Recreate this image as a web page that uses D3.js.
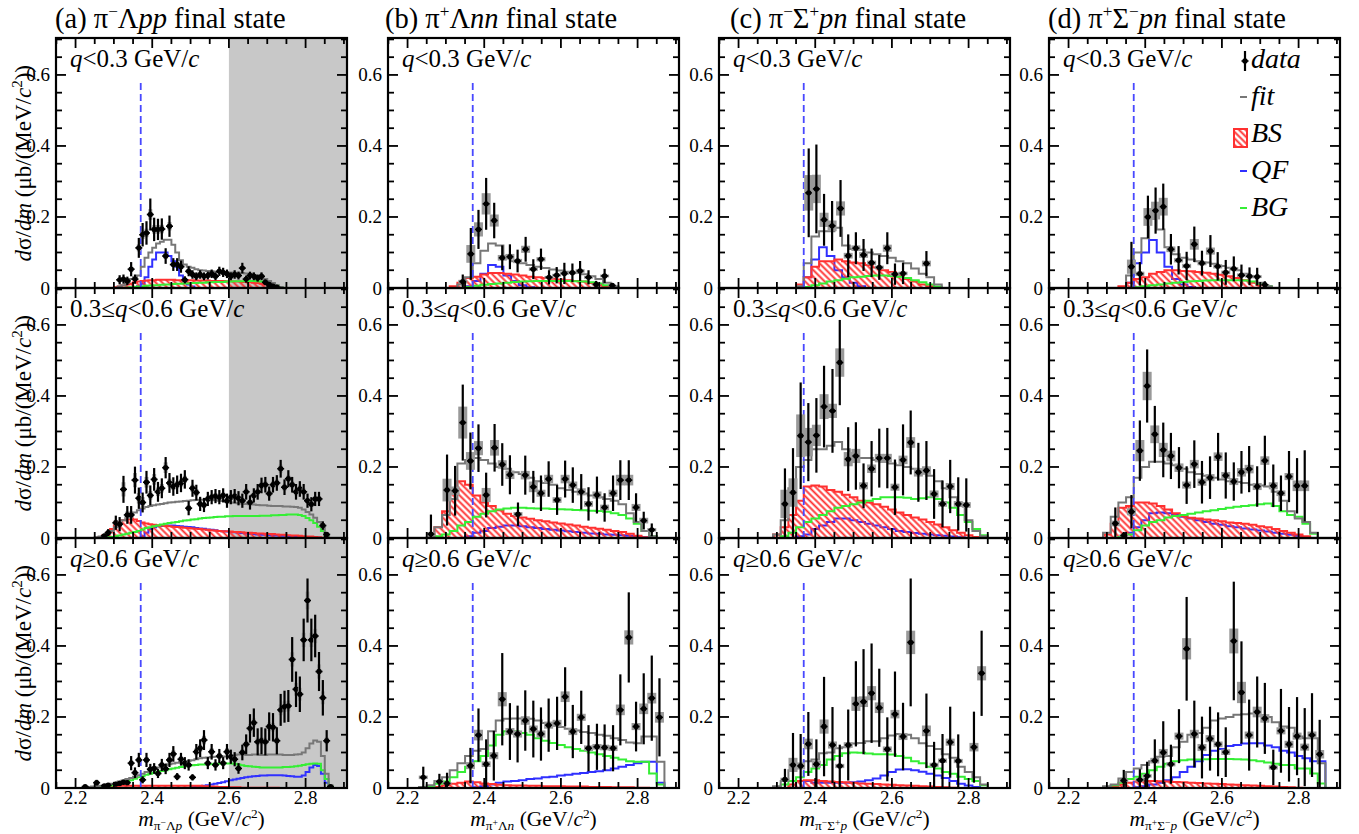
<!DOCTYPE html>
<meta charset="utf-8">
<style>
  body { margin: 0; background: #fff; }
  text { font-family: "Liberation Serif", "Times New Roman", "DejaVu Serif", serif; fill: #000; }
</style>
<svg id="chart" width="1359" height="834"></svg>
<script src="https://d3js.org/d3.v7.min.js"></script>
<script>
// ---------------- data ----------------
// histograms: bin i covers [edge0 + i*bw, edge0 + (i+1)*bw]
// column (a): edge0 2.22, bw 0.01 ; columns (b)-(d): edge0 2.23, bw 0.02
// data points: [mass, value, stat err, sys err]

// (a) pi- Lambda p p
const a1_pts = [[2.315,0.023,0.013,0.004],[2.325,0.025,0.013,0.004],[2.335,0.02,0.012,0.004],[2.345,0.053,0.02,0.006],[2.355,0.025,0.013,0.004],[2.365,0.113,0.028,0.01],[2.375,0.15,0.033,0.012],[2.385,0.155,0.033,0.012],[2.395,0.207,0.045,0.015],[2.405,0.165,0.033,0.012],[2.415,0.165,0.03,0.012],[2.425,0.166,0.03,0.012],[2.435,0.09,0.022,0.008],[2.445,0.174,0.03,0.012],[2.455,0.066,0.018,0.006],[2.465,0.066,0.018,0.006],[2.475,0.06,0.017,0.005],[2.485,0.023,0.01,0.003],[2.495,0.047,0.014,0.004],[2.505,0.038,0.012,0.004],[2.515,0.033,0.011,0.003],[2.525,0.038,0.012,0.004],[2.535,0.033,0.011,0.003],[2.545,0.035,0.011,0.003],[2.555,0.04,0.012,0.004],[2.565,0.033,0.011,0.003],[2.575,0.047,0.013,0.004],[2.585,0.044,0.013,0.004],[2.595,0.04,0.012,0.004],[2.605,0.033,0.011,0.003],[2.615,0.038,0.012,0.004],[2.625,0.035,0.011,0.003],[2.635,0.056,0.015,0.005],[2.645,0.025,0.01,0.003],[2.655,0.035,0.011,0.003],[2.665,0.033,0.011,0.003],[2.675,0.028,0.01,0.003],[2.685,0.033,0.011,0.003],[2.695,0.016,0.008,0.002],[2.705,0.01,0.006,0.002],[2.715,0.005,0.004,0.001],[2.725,0.002,0.002,0.001]];
const a1_fit = [0,0,0,0,0,0,0,0,0,0.004,0.008,0.015,0.025,0.03,0.035,0.06,0.085,0.1,0.113,0.125,0.13,0.136,0.136,0.122,0.1,0.078,0.066,0.06,0.057,0.053,0.05,0.049,0.048,0.047,0.046,0.045,0.045,0.044,0.044,0.043,0.043,0.042,0.041,0.04,0.036,0.033,0.03,0.025,0.02,0.014,0.008,0.003];
const a1_bs = [0,0,0,0,0,0,0,0,0.002,0.004,0.007,0.01,0.013,0.016,0.018,0.02,0.021,0.022,0.022,0.023,0.023,0.023,0.023,0.023,0.022,0.022,0.022,0.022,0.022,0.021,0.021,0.021,0.021,0.02,0.02,0.02,0.02,0.019,0.019,0.018,0.018,0.017,0.017,0.016,0.015,0.014,0.012,0.01,0.008,0.005,0.002];
const a1_qf = [0,0,0,0,0,0,0,0,0,0,0,0,0,0,0.005,0.012,0.03,0.06,0.08,0.1,0.1,0.1,0.09,0.075,0.06,0.035,0.02,0.01,0.004];
const a1_bg = [0,0,0,0,0,0,0,0,0,0,0,0.001,0.002,0.003,0.004,0.005,0.006,0.007,0.008,0.008,0.009,0.01,0.01,0.011,0.012,0.012,0.013,0.013,0.014,0.014,0.015,0.015,0.016,0.016,0.017,0.017,0.017,0.018,0.018,0.019,0.019,0.019,0.02,0.02,0.02,0.019,0.018,0.016,0.013,0.01,0.006,0.002];

const a2_pts = [[2.275,0.006,0.006,0.002],[2.285,0.015,0.01,0.003],[2.305,0.043,0.02,0.008],[2.315,0.039,0.02,0.008],[2.325,0.137,0.038,0.02],[2.335,0.065,0.025,0.01],[2.345,0.065,0.025,0.01],[2.355,0.163,0.038,0.02],[2.365,0.112,0.03,0.015],[2.375,0.1,0.028,0.015],[2.385,0.157,0.032,0.015],[2.395,0.12,0.028,0.012],[2.405,0.165,0.032,0.015],[2.415,0.13,0.028,0.012],[2.425,0.14,0.028,0.012],[2.435,0.198,0.03,0.015],[2.445,0.155,0.028,0.012],[2.455,0.145,0.026,0.01],[2.465,0.15,0.026,0.01],[2.475,0.155,0.026,0.01],[2.485,0.165,0.026,0.01],[2.495,0.084,0.02,0.008],[2.505,0.14,0.024,0.01],[2.515,0.128,0.022,0.01],[2.525,0.096,0.02,0.008],[2.535,0.093,0.02,0.008],[2.545,0.11,0.02,0.008],[2.555,0.115,0.02,0.008],[2.565,0.118,0.02,0.008],[2.575,0.115,0.02,0.008],[2.585,0.12,0.02,0.008],[2.595,0.105,0.02,0.008],[2.605,0.115,0.02,0.008],[2.615,0.118,0.02,0.008],[2.625,0.112,0.02,0.008],[2.635,0.105,0.02,0.008],[2.645,0.13,0.022,0.01],[2.655,0.1,0.02,0.008],[2.665,0.12,0.02,0.008],[2.675,0.13,0.022,0.01],[2.685,0.148,0.022,0.01],[2.695,0.15,0.022,0.01],[2.705,0.125,0.02,0.01],[2.715,0.15,0.022,0.01],[2.725,0.155,0.022,0.01],[2.735,0.195,0.025,0.012],[2.745,0.143,0.022,0.01],[2.755,0.167,0.024,0.01],[2.765,0.15,0.022,0.01],[2.775,0.13,0.022,0.01],[2.785,0.138,0.022,0.01],[2.795,0.13,0.022,0.01],[2.805,0.105,0.02,0.008],[2.815,0.095,0.02,0.008],[2.825,0.11,0.02,0.008],[2.835,0.11,0.02,0.008],[2.845,0.035,0.012,0.004],[2.855,0.01,0.006,0.002]];
const a2_fit = [0,0,0,0.002,0.004,0.007,0.012,0.02,0.03,0.04,0.05,0.058,0.065,0.072,0.078,0.083,0.087,0.09,0.092,0.094,0.096,0.098,0.1,0.101,0.102,0.103,0.104,0.105,0.106,0.107,0.108,0.108,0.108,0.107,0.106,0.105,0.104,0.102,0.1,0.099,0.098,0.097,0.096,0.095,0.094,0.093,0.092,0.092,0.091,0.09,0.09,0.09,0.089,0.089,0.088,0.087,0.085,0.08,0.073,0.066,0.057,0.045,0.03,0.008];
const a2_bs = [0,0,0,0,0.003,0.008,0.015,0.025,0.035,0.045,0.05,0.052,0.055,0.052,0.048,0.044,0.041,0.039,0.037,0.036,0.035,0.034,0.033,0.032,0.031,0.03,0.029,0.028,0.027,0.026,0.025,0.024,0.023,0.022,0.021,0.02,0.019,0.019,0.018,0.017,0.017,0.016,0.015,0.015,0.014,0.013,0.013,0.012,0.011,0.011,0.01,0.009,0.009,0.008,0.007,0.007,0.006,0.005,0.004,0.004,0.003,0.002,0.001];
const a2_qf = [0,0,0,0,0,0,0,0,0,0,0,0,0,0,0,0.005,0.015,0.025,0.03,0.033,0.034,0.035,0.035,0.035,0.034,0.033,0.032,0.031,0.03,0.028,0.027,0.026,0.024,0.023,0.022,0.02,0.019,0.018,0.017,0.016,0.015,0.014,0.013,0.012,0.011,0.01,0.009,0.009,0.008,0.007,0.007,0.006,0.006,0.005,0.005,0.004,0.004,0.003,0.003,0.002,0.002,0.001];
const a2_bg = [0,0,0,0,0,0,0.002,0.003,0.005,0.007,0.01,0.012,0.015,0.017,0.02,0.024,0.028,0.03,0.033,0.035,0.038,0.04,0.042,0.044,0.045,0.047,0.049,0.05,0.052,0.053,0.055,0.056,0.057,0.058,0.059,0.06,0.06,0.061,0.061,0.062,0.062,0.062,0.062,0.062,0.062,0.062,0.063,0.063,0.063,0.064,0.064,0.065,0.065,0.066,0.066,0.066,0.065,0.062,0.056,0.05,0.042,0.032,0.02,0.005];

const a3_pts = [[2.225,0.004,0.004,0.001],[2.255,0.015,0.008,0.002],[2.275,0.006,0.005,0.001],[2.285,0.008,0.006,0.001],[2.305,0.011,0.006,0.002],[2.315,0.013,0.007,0.002],[2.325,0.016,0.007,0.002],[2.335,0.015,0.007,0.002],[2.345,0.07,0.02,0.008],[2.355,0.043,0.015,0.006],[2.365,0.079,0.02,0.008],[2.375,0.023,0.01,0.004],[2.385,0.079,0.02,0.008],[2.395,0.053,0.015,0.006],[2.405,0.055,0.015,0.006],[2.415,0.041,0.013,0.005],[2.425,0.065,0.017,0.007],[2.435,0.054,0.015,0.006],[2.445,0.079,0.02,0.008],[2.455,0.096,0.022,0.01],[2.465,0.032,0.01,0.004],[2.475,0.081,0.018,0.008],[2.485,0.07,0.017,0.007],[2.495,0.065,0.016,0.007],[2.505,0.03,0.009,0.004],[2.515,0.102,0.022,0.01],[2.525,0.112,0.025,0.01],[2.535,0.135,0.028,0.012],[2.545,0.07,0.017,0.007],[2.555,0.102,0.022,0.01],[2.565,0.065,0.016,0.007],[2.575,0.09,0.02,0.008],[2.585,0.07,0.017,0.007],[2.595,0.102,0.022,0.01],[2.605,0.088,0.02,0.008],[2.615,0.081,0.02,0.008],[2.625,0.055,0.015,0.006],[2.635,0.1,0.022,0.01],[2.645,0.123,0.028,0.01],[2.655,0.168,0.04,0.012],[2.665,0.184,0.04,0.012],[2.675,0.13,0.038,0.01],[2.685,0.133,0.038,0.01],[2.695,0.13,0.038,0.01],[2.705,0.173,0.04,0.012],[2.715,0.171,0.04,0.012],[2.725,0.133,0.038,0.01],[2.735,0.22,0.045,0.015],[2.745,0.229,0.045,0.015],[2.755,0.231,0.045,0.015],[2.765,0.362,0.063,0.02],[2.775,0.278,0.05,0.018],[2.785,0.264,0.05,0.018],[2.795,0.417,0.06,0.02],[2.805,0.528,0.062,0.025],[2.815,0.417,0.06,0.02],[2.825,0.428,0.06,0.02],[2.835,0.328,0.055,0.02],[2.845,0.254,0.05,0.018],[2.855,0.133,0.03,0.01],[2.865,0.004,0.004,0.001]];
const a3_fit = [0.002,0.003,0.004,0.005,0.006,0.008,0.01,0.012,0.015,0.018,0.021,0.025,0.028,0.032,0.036,0.04,0.045,0.05,0.054,0.058,0.062,0.065,0.067,0.069,0.071,0.073,0.074,0.076,0.078,0.081,0.084,0.085,0.086,0.087,0.088,0.088,0.089,0.089,0.09,0.092,0.094,0.094,0.093,0.093,0.094,0.094,0.093,0.093,0.094,0.094,0.094,0.094,0.093,0.093,0.093,0.094,0.095,0.1,0.112,0.125,0.134,0.13,0.09,0.04,0.008];
const a3_bs = [0,0,0,0,0,0.002,0.003,0.004,0.005,0.006,0.006,0.006,0.006,0.006,0.006,0.006,0.006,0.006,0.006,0.006,0.006,0.006,0.006,0.006,0.006,0.006,0.006,0.006,0.006,0.006,0.006,0.005,0.005,0.004,0.004,0.003,0.003,0.003,0.002,0.002,0.002,0.001,0.001,0.001,0.001,0.001,0.001,0.001,0.001,0.001,0.001];
const a3_qf = [0,0,0,0,0,0,0,0,0,0,0,0,0,0,0,0,0,0,0,0,0,0,0,0,0,0,0,0,0.002,0.003,0.005,0.006,0.008,0.01,0.012,0.014,0.016,0.019,0.022,0.024,0.026,0.028,0.03,0.032,0.033,0.034,0.035,0.035,0.036,0.036,0.036,0.036,0.035,0.034,0.033,0.032,0.032,0.035,0.045,0.058,0.065,0.062,0.04,0.015,0.003];
const a3_bg = [0,0,0,0,0.002,0.003,0.005,0.007,0.01,0.012,0.015,0.018,0.022,0.026,0.03,0.033,0.037,0.04,0.043,0.045,0.048,0.05,0.053,0.055,0.057,0.059,0.061,0.062,0.064,0.065,0.066,0.066,0.067,0.067,0.068,0.068,0.069,0.069,0.069,0.068,0.066,0.064,0.062,0.061,0.06,0.059,0.058,0.058,0.058,0.058,0.058,0.058,0.059,0.059,0.06,0.061,0.063,0.065,0.067,0.068,0.069,0.068,0.05,0.025,0.005];

// (b) pi+ Lambda n n
const b1_pts = [[2.344,0.018,0.02,0.005],[2.365,0.096,0.073,0.025],[2.385,0.165,0.055,0.02],[2.405,0.237,0.073,0.03],[2.426,0.19,0.05,0.017],[2.447,0.085,0.035,0.008],[2.467,0.088,0.035,0.008],[2.487,0.076,0.032,0.006],[2.508,0.109,0.035,0.01],[2.528,0.053,0.028,0.005],[2.548,0.081,0.03,0.006],[2.569,0.03,0.02,0.004],[2.589,0.036,0.023,0.004],[2.609,0.041,0.03,0.004],[2.63,0.043,0.026,0.004],[2.65,0.048,0.028,0.005],[2.672,0.03,0.02,0.004],[2.692,0.01,0.01,0.002],[2.714,0.034,0.02,0.004],[2.734,0.007,0.007,0.002]];
const b1_fit = [0,0,0,0,0,0.01,0.03,0.07,0.105,0.125,0.12,0.09,0.075,0.07,0.065,0.06,0.056,0.052,0.049,0.046,0.043,0.039,0.033,0.025,0.015,0.005];
const b1_bs = [0,0,0,0,0.005,0.015,0.028,0.032,0.038,0.042,0.042,0.04,0.038,0.035,0.032,0.03,0.028,0.026,0.024,0.022,0.02,0.018,0.014,0.01,0.005,0.002];
const b1_qf = [0,0,0,0,0,0,0.005,0.02,0.04,0.065,0.06,0.035,0.02,0.008,0.002];
const b1_bg = [0,0,0,0,0,0,0.003,0.006,0.009,0.011,0.013,0.015,0.017,0.018,0.019,0.02,0.02,0.02,0.02,0.02,0.019,0.018,0.016,0.013,0.008,0.003];

const b2_pts = [[2.261,0.011,0.055,0.005],[2.303,0.135,0.1,0.032],[2.324,0.133,0.07,0.012],[2.344,0.325,0.107,0.045],[2.364,0.217,0.08,0.025],[2.385,0.253,0.067,0.02],[2.405,0.121,0.063,0.02],[2.427,0.254,0.067,0.022],[2.447,0.207,0.06,0.012],[2.467,0.178,0.055,0.012],[2.488,0.067,0.033,0.006],[2.507,0.177,0.055,0.012],[2.528,0.144,0.045,0.015],[2.548,0.126,0.05,0.01],[2.568,0.166,0.05,0.012],[2.59,0.107,0.042,0.008],[2.611,0.166,0.052,0.012],[2.631,0.149,0.05,0.01],[2.653,0.13,0.05,0.01],[2.672,0.096,0.047,0.008],[2.694,0.121,0.052,0.01],[2.714,0.086,0.04,0.008],[2.736,0.126,0.05,0.01],[2.755,0.163,0.056,0.015],[2.777,0.163,0.056,0.015],[2.796,0.086,0.04,0.01],[2.816,0.049,0.025,0.008],[2.837,0.023,0.018,0.005]];
const b2_fit = [0,0.002,0.03,0.065,0.11,0.21,0.22,0.225,0.22,0.21,0.2,0.195,0.185,0.18,0.17,0.16,0.155,0.15,0.14,0.135,0.13,0.125,0.12,0.115,0.11,0.105,0.095,0.07,0.045,0.02,0.005];
const b2_bs = [0,0,0.03,0.075,0.14,0.16,0.15,0.12,0.1,0.09,0.078,0.068,0.062,0.058,0.054,0.05,0.047,0.044,0.041,0.038,0.035,0.032,0.029,0.026,0.023,0.02,0.017,0.012,0.006,0.002];
const b2_qf = [0,0,0,0,0,0,0.005,0.015,0.02,0.028,0.032,0.035,0.035,0.033,0.03,0.028,0.025,0.023,0.021,0.019,0.017,0.015,0.013,0.012,0.01,0.009,0.008,0.006,0.004,0.002];
const b2_bg = [0,0,0.005,0.01,0.02,0.035,0.045,0.06,0.068,0.075,0.08,0.083,0.085,0.085,0.084,0.083,0.083,0.082,0.081,0.08,0.079,0.078,0.077,0.076,0.074,0.07,0.065,0.055,0.04,0.02,0.005];

const b3_pts = [[2.241,0.03,0.03,0.005],[2.283,0.018,0.022,0.003],[2.303,0.013,0.03,0.003],[2.364,0.063,0.05,0.01],[2.385,0.149,0.075,0.015],[2.405,0.067,0.07,0.008],[2.425,0.091,0.07,0.01],[2.447,0.25,0.13,0.02],[2.467,0.159,0.08,0.01],[2.487,0.152,0.08,0.01],[2.507,0.19,0.085,0.012],[2.528,0.166,0.08,0.01],[2.548,0.152,0.075,0.01],[2.568,0.177,0.075,0.01],[2.59,0.182,0.075,0.01],[2.611,0.257,0.083,0.015],[2.631,0.159,0.075,0.01],[2.653,0.199,0.075,0.01],[2.672,0.112,0.065,0.008],[2.694,0.116,0.065,0.008],[2.714,0.114,0.065,0.008],[2.736,0.112,0.065,0.008],[2.755,0.22,0.1,0.015],[2.777,0.424,0.127,0.02],[2.796,0.173,0.07,0.01],[2.816,0.223,0.1,0.015],[2.837,0.253,0.12,0.015],[2.857,0.199,0.11,0.015]];
const b3_fit = [0.003,0.008,0.02,0.03,0.05,0.07,0.09,0.105,0.11,0.16,0.19,0.195,0.196,0.196,0.195,0.19,0.183,0.177,0.172,0.167,0.162,0.158,0.155,0.15,0.147,0.14,0.135,0.128,0.126,0.145,0.145,0.074];
const b3_bs = [0,0,0.003,0.008,0.012,0.015,0.018,0.016,0.013,0.011,0.009,0.008,0.007,0.007,0.006,0.006,0.005,0.005,0.005,0.004,0.004,0.004,0.003,0.003,0.003,0.002,0.002,0.002,0.001,0.001];
const b3_qf = [0,0,0,0,0,0,0,0.002,0.005,0.01,0.015,0.018,0.02,0.022,0.025,0.027,0.03,0.032,0.035,0.037,0.04,0.042,0.045,0.047,0.05,0.055,0.06,0.065,0.07,0.074,0.074,0.015];
const b3_bg = [0.002,0.005,0.012,0.018,0.03,0.045,0.06,0.075,0.09,0.12,0.15,0.16,0.16,0.155,0.15,0.14,0.133,0.127,0.121,0.115,0.11,0.105,0.1,0.095,0.09,0.085,0.08,0.075,0.074,0.074,0.041,0.01];

// (c) pi- Sigma+ p n
const c1_pts = [[2.383,0.268,0.125,0.05],[2.403,0.279,0.125,0.04],[2.423,0.192,0.073,0.02],[2.444,0.175,0.07,0.015],[2.466,0.224,0.08,0.02],[2.486,0.091,0.06,0.008],[2.506,0.112,0.045,0.008],[2.526,0.093,0.045,0.008],[2.547,0.071,0.04,0.006],[2.567,0.058,0.035,0.005],[2.588,0.112,0.045,0.01],[2.608,0.039,0.03,0.005],[2.629,0.041,0.03,0.005],[2.69,0.069,0.035,0.008]];
const c1_fit = [0,0,0,0,0,0,0.005,0.07,0.145,0.16,0.16,0.17,0.12,0.11,0.108,0.1,0.095,0.09,0.085,0.075,0.07,0.055,0.04,0.03,0.01];
const c1_bs = [0,0,0,0,0,0,0.01,0.03,0.06,0.075,0.075,0.08,0.075,0.072,0.07,0.065,0.058,0.05,0.045,0.035,0.025,0.018,0.01,0.005];
const c1_qf = [0,0,0,0,0,0,0,0.03,0.08,0.115,0.09,0.05,0.03,0.015,0.005];
const c1_bg = [0,0,0,0,0,0,0,0.003,0.008,0.013,0.018,0.022,0.026,0.03,0.032,0.034,0.035,0.035,0.034,0.032,0.028,0.022,0.016,0.01,0.004];

const c2_pts = [[2.321,0.096,0.1,0.04],[2.342,0.128,0.125,0.04],[2.362,0.288,0.15,0.06],[2.382,0.27,0.11,0.04],[2.403,0.289,0.105,0.03],[2.423,0.37,0.115,0.035],[2.445,0.358,0.118,0.02],[2.464,0.494,0.12,0.04],[2.486,0.222,0.09,0.02],[2.506,0.231,0.095,0.02],[2.526,0.147,0.063,0.01],[2.547,0.195,0.078,0.012],[2.567,0.225,0.083,0.012],[2.588,0.225,0.085,0.012],[2.608,0.143,0.078,0.01],[2.629,0.22,0.1,0.012],[2.649,0.269,0.09,0.015],[2.669,0.185,0.083,0.012],[2.69,0.19,0.083,0.012],[2.71,0.124,0.07,0.01],[2.732,0.096,0.066,0.008],[2.752,0.145,0.075,0.01],[2.773,0.096,0.075,0.008],[2.794,0.093,0.075,0.008]];
const c2_fit = [0,0,0,0.01,0.05,0.14,0.2,0.22,0.25,0.25,0.26,0.27,0.25,0.23,0.225,0.225,0.22,0.215,0.21,0.205,0.2,0.195,0.19,0.175,0.16,0.14,0.115,0.09,0.05,0.02,0.005];
const c2_bs = [0,0,0,0.01,0.03,0.065,0.105,0.145,0.148,0.145,0.135,0.13,0.122,0.115,0.105,0.1,0.095,0.088,0.08,0.072,0.065,0.058,0.052,0.045,0.038,0.03,0.022,0.015,0.008,0.003];
const c2_qf = [0,0,0,0,0,0,0.005,0.01,0.025,0.035,0.045,0.055,0.055,0.05,0.045,0.04,0.035,0.03,0.025,0.02,0.017,0.014,0.012,0.01,0.008,0.006,0.004,0.002];
const c2_bg = [0,0,0,0,0.005,0.015,0.03,0.045,0.055,0.065,0.075,0.085,0.09,0.095,0.1,0.105,0.11,0.115,0.115,0.115,0.113,0.11,0.112,0.115,0.11,0.1,0.085,0.065,0.045,0.025,0.008];

const c3_pts = [[2.321,0.024,0.03,0.005],[2.342,0.065,0.09,0.02],[2.362,0.062,0.09,0.01],[2.382,0.124,0.09,0.015],[2.403,0.067,0.07,0.01],[2.423,0.173,0.14,0.02],[2.445,0.121,0.107,0.01],[2.464,0.062,0.06,0.006],[2.486,0.121,0.1,0.008],[2.506,0.237,0.12,0.02],[2.526,0.243,0.148,0.015],[2.547,0.267,0.14,0.02],[2.567,0.226,0.11,0.015],[2.588,0.109,0.09,0.008],[2.608,0.208,0.12,0.012],[2.629,0.145,0.095,0.01],[2.649,0.41,0.18,0.033],[2.69,0.161,0.105,0.015],[2.71,0.065,0.065,0.006],[2.732,0.077,0.075,0.006],[2.752,0.129,0.1,0.01],[2.773,0.076,0.075,0.006],[2.814,0.115,0.1,0.012],[2.834,0.323,0.12,0.02]];
const c3_fit = [0,0,0,0.005,0.02,0.05,0.06,0.075,0.08,0.098,0.1,0.112,0.115,0.125,0.127,0.132,0.132,0.14,0.148,0.152,0.15,0.14,0.126,0.118,0.11,0.095,0.085,0.06,0.045,0.03,0.01];
const c3_bs = [0,0,0,0,0,0.01,0.02,0.022,0.022,0.02,0.018,0.017,0.016,0.015,0.013,0.012,0.011,0.01,0.009,0.008,0.007,0.006,0.005,0.004,0.003,0.002,0.001];
const c3_qf = [0,0,0,0,0,0,0.02,0.02,0.015,0.015,0.015,0.015,0.015,0.016,0.018,0.022,0.027,0.035,0.045,0.052,0.053,0.05,0.046,0.04,0.035,0.028,0.02,0.012,0.007,0.003];
const c3_bg = [0,0,0,0.002,0.01,0.02,0.03,0.045,0.055,0.065,0.08,0.09,0.098,0.1,0.099,0.097,0.095,0.095,0.094,0.09,0.085,0.075,0.07,0.06,0.055,0.045,0.04,0.032,0.025,0.02,0.008];

// (d) pi+ Sigma- p n
const d1_pts = [[2.364,0.06,0.07,0.02],[2.386,0.04,0.033,0.006],[2.407,0.2,0.06,0.025],[2.427,0.218,0.065,0.025],[2.447,0.229,0.065,0.025],[2.467,0.109,0.043,0.008],[2.487,0.078,0.04,0.006],[2.508,0.062,0.04,0.006],[2.528,0.123,0.05,0.015],[2.548,0.07,0.035,0.006],[2.57,0.104,0.045,0.01],[2.589,0.061,0.04,0.006],[2.61,0.044,0.035,0.005],[2.631,0.054,0.035,0.005],[2.651,0.036,0.03,0.005],[2.672,0.033,0.025,0.004],[2.692,0.032,0.025,0.004],[2.712,0.009,0.01,0.002]];
const d1_fit = [0,0,0,0,0,0,0.035,0.1,0.14,0.195,0.165,0.115,0.095,0.085,0.08,0.075,0.072,0.068,0.062,0.057,0.05,0.04,0.03,0.015,0.005];
const d1_bs = [0,0,0,0,0,0.005,0.015,0.025,0.03,0.04,0.045,0.05,0.05,0.048,0.047,0.045,0.043,0.04,0.037,0.033,0.028,0.022,0.015,0.008,0.003];
const d1_qf = [0,0,0,0,0,0,0.015,0.07,0.1,0.135,0.1,0.06,0.025,0.01,0.003];
const d1_bg = [0,0,0,0,0,0,0,0.002,0.005,0.008,0.01,0.013,0.015,0.017,0.019,0.02,0.021,0.022,0.022,0.022,0.022,0.021,0.018,0.012,0.005];

const d2_pts = [[2.322,0.041,0.045,0.008],[2.344,0.007,0.01,0.003],[2.364,0.074,0.047,0.01],[2.386,0.246,0.085,0.03],[2.405,0.428,0.103,0.04],[2.425,0.292,0.08,0.025],[2.447,0.248,0.077,0.02],[2.467,0.231,0.065,0.015],[2.488,0.198,0.058,0.012],[2.508,0.149,0.053,0.01],[2.528,0.208,0.067,0.012],[2.548,0.157,0.06,0.01],[2.569,0.17,0.06,0.01],[2.59,0.229,0.067,0.012],[2.61,0.176,0.065,0.01],[2.631,0.159,0.054,0.01],[2.651,0.185,0.06,0.012],[2.671,0.194,0.065,0.012],[2.692,0.145,0.057,0.01],[2.712,0.218,0.07,0.012],[2.734,0.147,0.06,0.01],[2.754,0.126,0.05,0.008],[2.775,0.173,0.072,0.01],[2.796,0.147,0.078,0.015],[2.816,0.147,0.1,0.015]];
const d2_fit = [0,0,0,0.015,0.06,0.1,0.115,0.17,0.2,0.215,0.215,0.21,0.205,0.195,0.185,0.18,0.175,0.17,0.165,0.16,0.158,0.155,0.15,0.148,0.145,0.13,0.105,0.075,0.055,0.045,0.015];
const d2_bs = [0,0,0,0.01,0.04,0.085,0.09,0.1,0.1,0.097,0.09,0.08,0.07,0.062,0.057,0.055,0.052,0.05,0.047,0.044,0.042,0.04,0.037,0.033,0.03,0.025,0.02,0.015,0.01,0.005];
const d2_qf = [0,0,0,0,0,0,0.015,0.03,0.05,0.07,0.072,0.07,0.065,0.06,0.055,0.05,0.045,0.04,0.037,0.033,0.03,0.027,0.024,0.021,0.018,0.015,0.012,0.009,0.006,0.003];
const d2_bg = [0,0,0,0,0,0.003,0.01,0.022,0.035,0.045,0.05,0.058,0.062,0.065,0.068,0.072,0.075,0.078,0.082,0.085,0.088,0.09,0.092,0.095,0.097,0.09,0.075,0.065,0.06,0.04,0.012];

const d3_pts = [[2.344,0.021,0.03,0.005],[2.386,0.023,0.03,0.005],[2.405,0.034,0.04,0.005],[2.425,0.077,0.06,0.008],[2.447,0.1,0.088,0.01],[2.467,0.067,0.055,0.006],[2.488,0.146,0.076,0.01],[2.508,0.392,0.146,0.03],[2.528,0.152,0.094,0.012],[2.548,0.114,0.087,0.01],[2.569,0.139,0.09,0.01],[2.59,0.123,0.09,0.008],[2.61,0.101,0.07,0.008],[2.631,0.414,0.167,0.035],[2.651,0.269,0.144,0.03],[2.671,0.149,0.1,0.01],[2.692,0.214,0.1,0.015],[2.712,0.196,0.1,0.012],[2.734,0.058,0.05,0.006],[2.754,0.161,0.118,0.01],[2.775,0.123,0.105,0.01],[2.796,0.146,0.11,0.01],[2.816,0.115,0.11,0.01],[2.835,0.149,0.118,0.01],[2.855,0.095,0.097,0.012]];
const d3_fit = [0,0,0,0.005,0.01,0.027,0.045,0.055,0.065,0.075,0.088,0.09,0.115,0.13,0.15,0.155,0.17,0.19,0.196,0.2,0.206,0.208,0.21,0.205,0.2,0.185,0.173,0.17,0.145,0.14,0.14,0.07];
const d3_bs = [0,0,0,0,0.005,0.01,0.015,0.018,0.02,0.02,0.019,0.018,0.017,0.016,0.015,0.014,0.013,0.012,0.011,0.01,0.009,0.008,0.007,0.006,0.005,0.004,0.003,0.002,0.001];
const d3_qf = [0,0,0,0,0,0,0,0.002,0.005,0.01,0.015,0.022,0.03,0.045,0.06,0.075,0.093,0.105,0.11,0.118,0.121,0.125,0.126,0.126,0.12,0.115,0.105,0.1,0.09,0.084,0.075,0.075];
const d3_bg = [0,0,0,0.003,0.008,0.015,0.025,0.032,0.04,0.05,0.06,0.068,0.075,0.078,0.08,0.08,0.081,0.082,0.082,0.082,0.081,0.08,0.078,0.075,0.072,0.068,0.065,0.065,0.055,0.055,0.041,0.013];

const threshold = 2.37;          // dashed line position (GeV/c^2)
const shadeFrom = 2.6;           // excluded region in column (a)
const xMajor = [2.2, 2.4, 2.6, 2.8];
const yMajor = [0, 0.2, 0.4, 0.6];

// ---------------- layout ----------------
const colLeft = [56, 388, 719, 1049], colW = 291;
const rowTop = [38, 288, 538], rowH = 250;
const xDomain = [2.149, 2.908], yDomain = [0, 0.704];
const colCfg = [
  {edge0: 2.22, bw: 0.01, boxW: 4, sysFill: "#a8a8a8"},
  {edge0: 2.23, bw: 0.02, boxW: 9, sysFill: "#999"},
  {edge0: 2.23, bw: 0.02, boxW: 9, sysFill: "#999"},
  {edge0: 2.23, bw: 0.02, boxW: 9, sysFill: "#999"}
];
const cFit = "#777", cBS = "#ff3030", cQF = "#3030ff", cBG = "#35ee35", cDash = "#4848ff";

const panels = [
  {col:0,row:0,pts:a1_pts,fit:a1_fit,bs:a1_bs,qf:a1_qf,bg:a1_bg},
  {col:0,row:1,pts:a2_pts,fit:a2_fit,bs:a2_bs,qf:a2_qf,bg:a2_bg},
  {col:0,row:2,pts:a3_pts,fit:a3_fit,bs:a3_bs,qf:a3_qf,bg:a3_bg},
  {col:1,row:0,pts:b1_pts,fit:b1_fit,bs:b1_bs,qf:b1_qf,bg:b1_bg},
  {col:1,row:1,pts:b2_pts,fit:b2_fit,bs:b2_bs,qf:b2_qf,bg:b2_bg},
  {col:1,row:2,pts:b3_pts,fit:b3_fit,bs:b3_bs,qf:b3_qf,bg:b3_bg},
  {col:2,row:0,pts:c1_pts,fit:c1_fit,bs:c1_bs,qf:c1_qf,bg:c1_bg},
  {col:2,row:1,pts:c2_pts,fit:c2_fit,bs:c2_bs,qf:c2_qf,bg:c2_bg},
  {col:2,row:2,pts:c3_pts,fit:c3_fit,bs:c3_bs,qf:c3_qf,bg:c3_bg},
  {col:3,row:0,pts:d1_pts,fit:d1_fit,bs:d1_bs,qf:d1_qf,bg:d1_bg},
  {col:3,row:1,pts:d2_pts,fit:d2_fit,bs:d2_bs,qf:d2_qf,bg:d2_bg},
  {col:3,row:2,pts:d3_pts,fit:d3_fit,bs:d3_bs,qf:d3_qf,bg:d3_bg}
];

const svg = d3.select("#chart");
const defs = svg.append("defs");

const hatch = defs.append("pattern").attr("id", "hatch")
  .attr("patternUnits", "userSpaceOnUse")
  .attr("width", 4.6).attr("height", 4.6)
  .attr("patternTransform", "rotate(-45)");
hatch.append("line").attr("x1", 2.3).attr("x2", 2.3).attr("y1", 0).attr("y2", 4.6)
  .attr("stroke", cBS).attr("stroke-width", 1.9);

// text with italic / super / subscripts, offsets in em of the base size
function rich(sel, x, y, segs, size, anchor) {
  const t = sel.append("text").attr("x", x).attr("y", y)
    .attr("font-size", size).attr("text-anchor", anchor || "start");
  let cur = 0;
  segs.forEach(s => {
    const off = (s.dy || 0) * size;
    const ts = t.append("tspan").text(s.t);
    if (off !== cur) { ts.attr("dy", off - cur); cur = off; }
    if (s.it) ts.attr("font-style", "italic");
    if (s.sc) ts.attr("font-size", size * s.sc);
  });
  return t;
}

function stepPoints(vals, edge0, bw) {
  const first = vals.findIndex(v => v > 0);
  if (first < 0) return [];
  let last = vals.length - 1;
  while (!(vals[last] > 0)) last--;
  const pts = [[edge0 + first * bw, 0]];
  for (let i = first; i <= last; i++) pts.push([edge0 + i * bw, vals[i]]);
  pts.push([edge0 + (last + 1) * bw, 0]);
  return pts;
}

const xMinor = d3.range(0, 16).map(i => +(2.15 + 0.05 * i).toFixed(2))
  .filter(v => v > xDomain[0] && v < xDomain[1] && !xMajor.includes(v));
const yMinor = d3.range(1, 15).map(i => +(0.05 * i).toFixed(2))
  .filter(v => v < yDomain[1] && !yMajor.includes(v));

panels.forEach(p => {
  const left = colLeft[p.col], top = rowTop[p.row], cfg = colCfg[p.col];
  const x = d3.scaleLinear().domain(xDomain).range([left, left + colW]);
  const y = d3.scaleLinear().domain(yDomain).range([top + rowH, top]);
  const clipId = "clip" + p.col + p.row;
  defs.append("clipPath").attr("id", clipId).append("rect")
    .attr("x", left).attr("y", top).attr("width", colW).attr("height", rowH);
  const g = svg.append("g").attr("clip-path", "url(#" + clipId + ")");

  if (p.col === 0) {
    g.append("rect").attr("x", x(shadeFrom)).attr("y", top)
      .attr("width", left + colW - x(shadeFrom)).attr("height", rowH).attr("fill", "#c8c8c8");
  }

  const line = d3.line().x(d => x(d[0])).y(d => y(d[1])).curve(d3.curveStepAfter);
  const hist = vals => line(stepPoints(vals, cfg.edge0, cfg.bw));

  g.append("path").attr("d", hist(p.qf)).attr("fill", "none").attr("stroke", cQF).attr("stroke-width", 2);
  g.append("path").attr("d", hist(p.bs)).attr("fill", "url(#hatch)").attr("stroke", cBS).attr("stroke-width", 2);
  g.append("path").attr("d", hist(p.bg)).attr("fill", "none").attr("stroke", cBG).attr("stroke-width", 2);
  g.append("path").attr("d", hist(p.fit)).attr("fill", "none").attr("stroke", cFit).attr("stroke-width", 2);

  g.append("line").attr("x1", x(threshold)).attr("x2", x(threshold))
    .attr("y1", y(0)).attr("y2", y(0.58))
    .attr("stroke", cDash).attr("stroke-width", 1.8).attr("stroke-dasharray", "7,4");

  const pt = g.append("g").selectAll("g").data(p.pts).join("g");
  pt.append("rect")
    .attr("x", d => x(d[0]) - cfg.boxW / 2).attr("width", cfg.boxW)
    .attr("y", d => y(d[1] + d[3])).attr("height", d => y(d[1] - d[3]) - y(d[1] + d[3]))
    .attr("fill", cfg.sysFill);
  pt.append("line")
    .attr("x1", d => x(d[0])).attr("x2", d => x(d[0]))
    .attr("y1", d => y(d[1] - d[2])).attr("y2", d => y(d[1] + d[2]))
    .attr("stroke", "#000").attr("stroke-width", 2.2);
  pt.append("line")
    .attr("x1", d => x(d[0]) - 3.5).attr("x2", d => x(d[0]) + 3.5)
    .attr("y1", d => y(d[1])).attr("y2", d => y(d[1]))
    .attr("stroke", "#000").attr("stroke-width", 1.6);
  pt.append("circle").attr("cx", d => x(d[0])).attr("cy", d => y(d[1])).attr("r", 2.7).attr("fill", "#000");

  // frame and inward ticks on all four sides
  const ax = svg.append("g").attr("stroke", "#000").attr("stroke-width", 1.8);
  const tick = (v, len, isX) => {
    if (isX) {
      ax.append("line").attr("x1", x(v)).attr("x2", x(v)).attr("y1", top + rowH).attr("y2", top + rowH - len);
      ax.append("line").attr("x1", x(v)).attr("x2", x(v)).attr("y1", top).attr("y2", top + len);
    } else {
      ax.append("line").attr("x1", left).attr("x2", left + len).attr("y1", y(v)).attr("y2", y(v));
      ax.append("line").attr("x1", left + colW).attr("x2", left + colW - len).attr("y1", y(v)).attr("y2", y(v));
    }
  };
  xMajor.forEach(v => tick(v, 10, true));
  xMinor.forEach(v => tick(v, 6, true));
  yMajor.forEach(v => tick(v, 10, false));
  yMinor.forEach(v => tick(v, 6, false));
  svg.append("rect").attr("x", left).attr("y", top).attr("width", colW).attr("height", rowH)
    .attr("fill", "none").attr("stroke", "#000").attr("stroke-width", 2.2);

  yMajor.forEach(v => {
    svg.append("text").attr("x", left - 6).attr("y", y(v) + 6.5)
      .attr("text-anchor", "end").attr("font-size", 19).text(v === 0 ? "0" : v.toFixed(1));
  });
  if (p.row === 2) {
    xMajor.forEach(v => {
      svg.append("text").attr("x", x(v)).attr("y", 804)
        .attr("text-anchor", "middle").attr("font-size", 19).text(v.toFixed(1));
    });
  }
});

// row labels
const rowLabels = [
  [{t:"q",it:1},{t:"<0.3 GeV/"},{t:"c",it:1}],
  [{t:"0.3≤"},{t:"q",it:1},{t:"<0.6 GeV/"},{t:"c",it:1}],
  [{t:"q",it:1},{t:"≥0.6 GeV/"},{t:"c",it:1}]
];
colLeft.forEach(l => rowTop.forEach((t, r) => rich(svg, l + 14, t + 29, rowLabels[r], 25)));

// column titles
const titles = [
  [{t:"(a) π"},{t:"−",dy:-0.38,sc:0.6},{t:"Λ"},{t:"pp",it:1},{t:" final state"}],
  [{t:"(b) π"},{t:"+",dy:-0.38,sc:0.6},{t:"Λ"},{t:"nn",it:1},{t:" final state"}],
  [{t:"(c) π"},{t:"−",dy:-0.38,sc:0.6},{t:"Σ"},{t:"+",dy:-0.38,sc:0.6},{t:"pn",it:1},{t:" final state"}],
  [{t:"(d) π"},{t:"+",dy:-0.38,sc:0.6},{t:"Σ"},{t:"−",dy:-0.38,sc:0.6},{t:"pn",it:1},{t:" final state"}]
];
const titleX = [55, 385, 730, 1048];
titles.forEach((segs, i) => rich(svg, titleX[i], 28, segs, 28.5));

// y-axis titles (column a)
const yTitle = [{t:"d",it:1},{t:"σ/"},{t:"dm",it:1},{t:" (μb/(MeV/"},{t:"c",it:1},{t:"2",dy:-0.38,sc:0.65},{t:"))"}];
rowTop.forEach(t => {
  const g = svg.append("g").attr("transform", "translate(31," + (t + 27) + ") rotate(-90)");
  rich(g, 0, 0, yTitle, 23, "end");
});

// x-axis titles
const xTitles = [
  [{t:"m",it:1},{t:"π",dy:0.2,sc:0.62},{t:"−",dy:-0.02,sc:0.45},{t:"Λ",dy:0.2,sc:0.62},{t:"p",dy:0.2,sc:0.62,it:1},{t:" (GeV/"},{t:"c",it:1},{t:"2",dy:-0.36,sc:0.62},{t:")"}],
  [{t:"m",it:1},{t:"π",dy:0.2,sc:0.62},{t:"+",dy:-0.02,sc:0.45},{t:"Λ",dy:0.2,sc:0.62},{t:"n",dy:0.2,sc:0.62,it:1},{t:" (GeV/"},{t:"c",it:1},{t:"2",dy:-0.36,sc:0.62},{t:")"}],
  [{t:"m",it:1},{t:"π",dy:0.2,sc:0.62},{t:"−",dy:-0.02,sc:0.45},{t:"Σ",dy:0.2,sc:0.62},{t:"+",dy:-0.02,sc:0.45},{t:"p",dy:0.2,sc:0.62,it:1},{t:" (GeV/"},{t:"c",it:1},{t:"2",dy:-0.36,sc:0.62},{t:")"}],
  [{t:"m",it:1},{t:"π",dy:0.2,sc:0.62},{t:"+",dy:-0.02,sc:0.45},{t:"Σ",dy:0.2,sc:0.62},{t:"−",dy:-0.02,sc:0.45},{t:"p",dy:0.2,sc:0.62,it:1},{t:" (GeV/"},{t:"c",it:1},{t:"2",dy:-0.36,sc:0.62},{t:")"}]
];
xTitles.forEach((segs, i) => rich(svg, colLeft[i] + colW / 2, 826, segs, 21.5, "middle"));

// legend in panel (d), top row
const lg = svg.append("g");
const lx = 1251, lSize = 28;
const entries = ["data", "fit", "BS", "QF", "BG"];
const lBase = [68, 105, 142, 179, 216];
entries.forEach((e, i) => {
  lg.append("text").attr("x", lx).attr("y", lBase[i]).attr("font-size", lSize)
    .attr("font-style", "italic").text(e);
});
lg.append("line").attr("x1", 1245).attr("x2", 1245).attr("y1", 51).attr("y2", 71).attr("stroke", "#000").attr("stroke-width", 2.2);
lg.append("line").attr("x1", 1241.5).attr("x2", 1248.5).attr("y1", 61).attr("y2", 61).attr("stroke", "#000").attr("stroke-width", 1.6);
lg.append("circle").attr("cx", 1245).attr("cy", 61).attr("r", 2.7).attr("fill", "#000");
lg.append("line").attr("x1", 1240).attr("x2", 1247).attr("y1", 97).attr("y2", 97).attr("stroke", cFit).attr("stroke-width", 2);
lg.append("rect").attr("x", 1234).attr("y", 129).attr("width", 13).attr("height", 18)
  .attr("fill", "url(#hatch)").attr("stroke", cBS).attr("stroke-width", 2);
lg.append("line").attr("x1", 1240).attr("x2", 1247).attr("y1", 171).attr("y2", 171).attr("stroke", cQF).attr("stroke-width", 2);
lg.append("line").attr("x1", 1240).attr("x2", 1247).attr("y1", 208).attr("y2", 208).attr("stroke", cBG).attr("stroke-width", 2);
</script>
